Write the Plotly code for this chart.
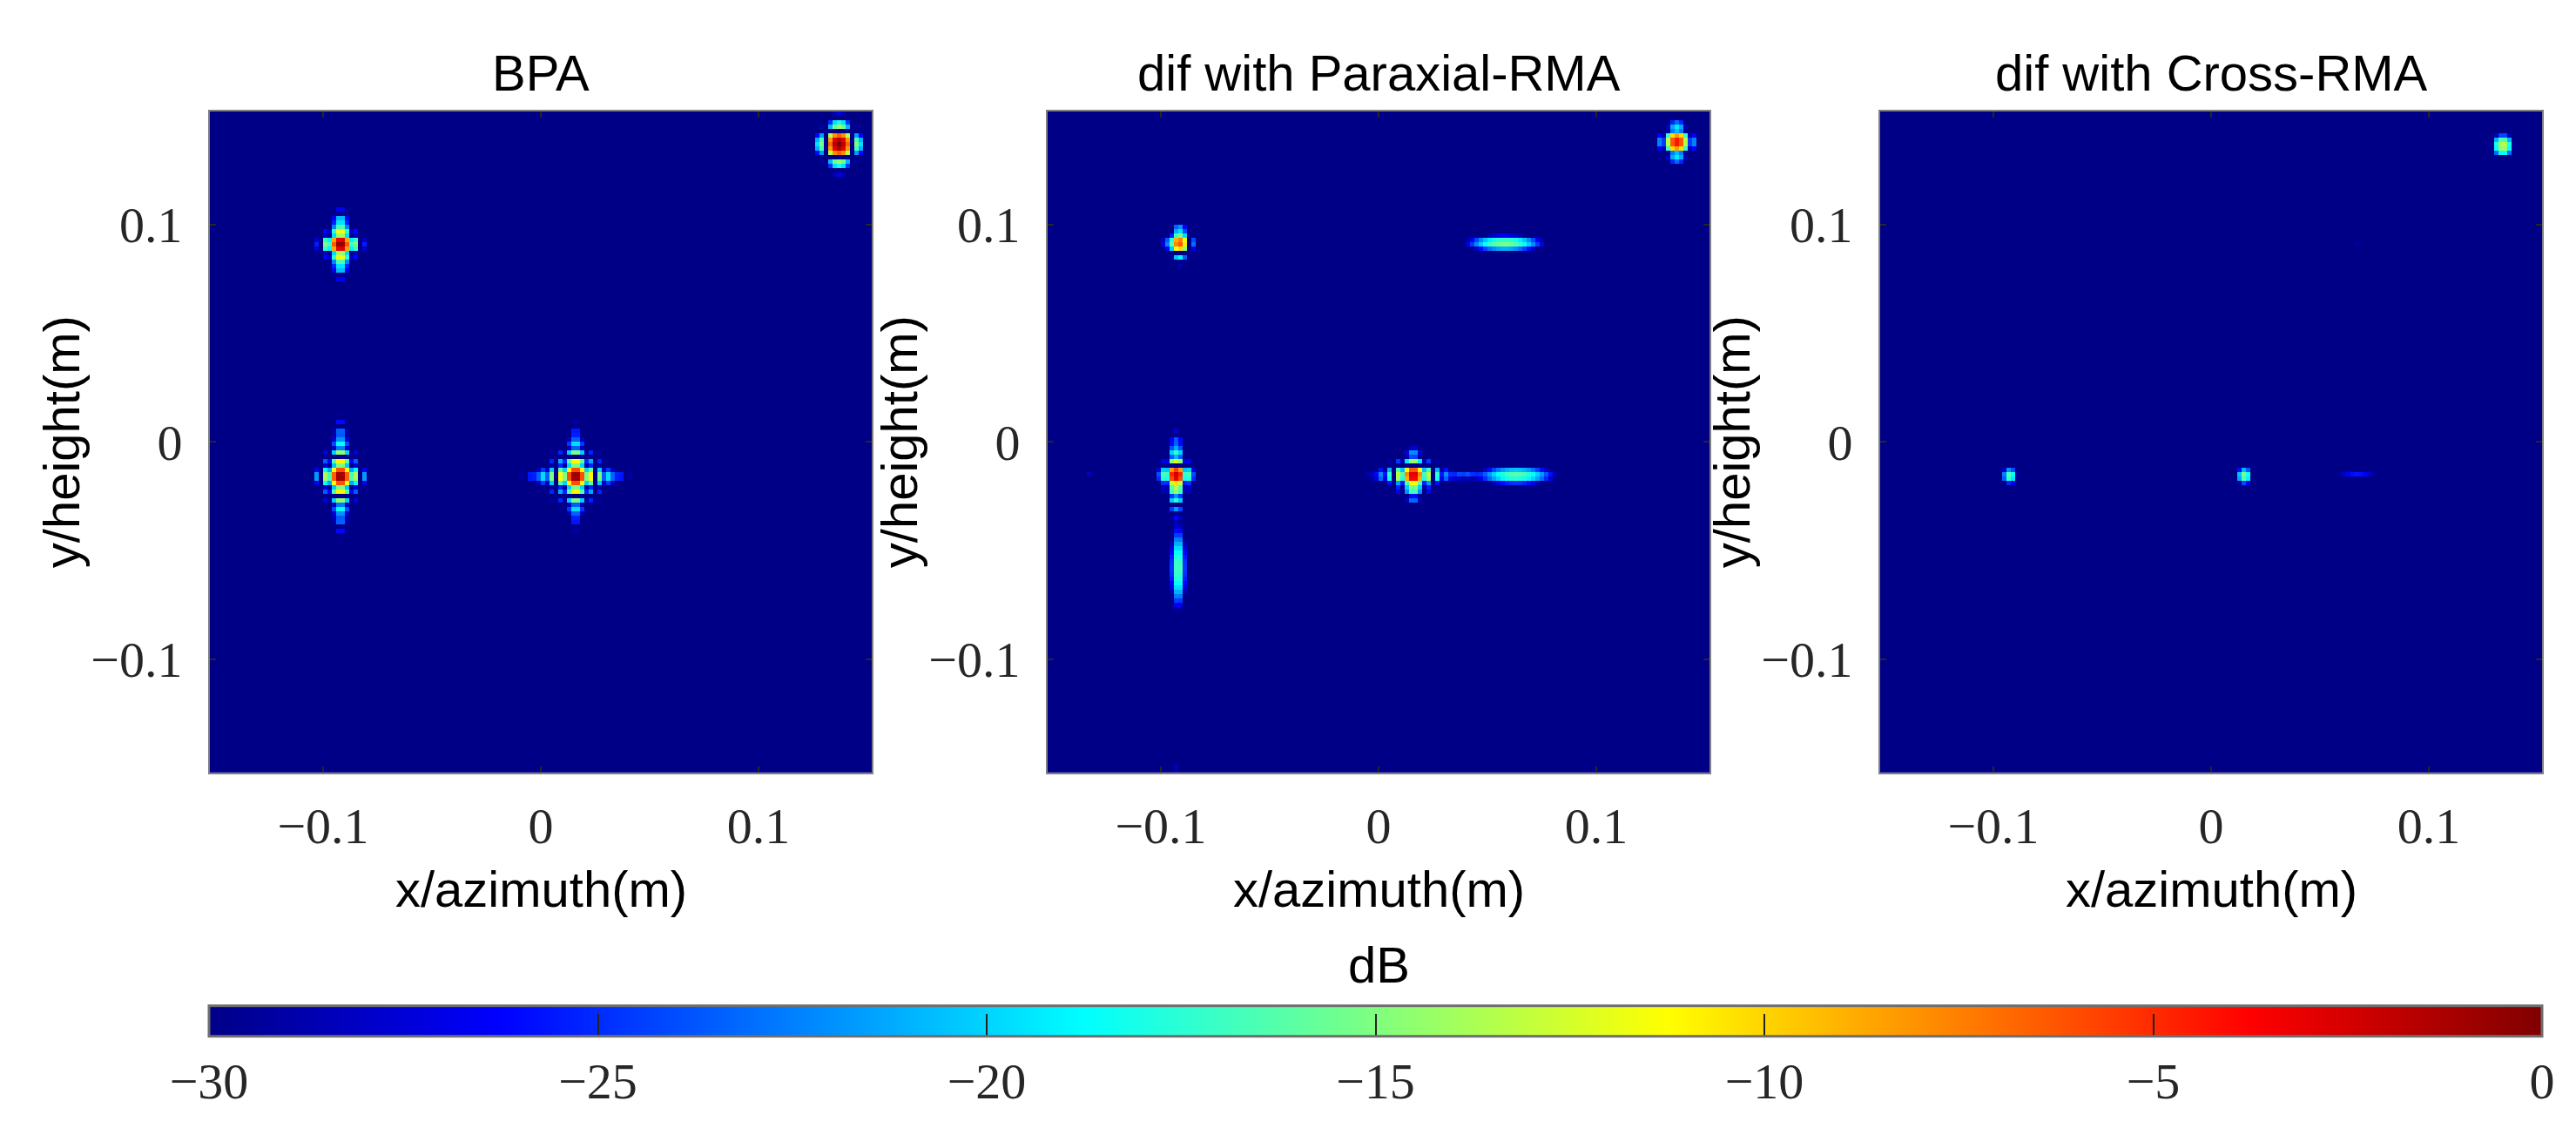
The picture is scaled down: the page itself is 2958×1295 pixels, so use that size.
import numpy as np
import plotly.graph_objects as go

# ==========================================
# Data
# ==========================================

# image grid (metres)
GRID_STEP = 0.002
GRID_MIN = -0.151
GRID_MAX = 0.151

# point targets, BPA image
BPA_X = [-0.092, 0.016, -0.092, 0.137]
BPA_Y = [-0.016, -0.016, 0.091, 0.137]
BPA_DB = [0.0, 0.0, 0.0, 0.0]
BPA_RES = [0.0045, 0.0045, 0.0045, 0.006]
BPA_REACH_X = [0.011, 0.022, 0.009, 0.010]
BPA_REACH_Y = [0.026, 0.022, 0.014, 0.011]

# point responses, difference with Paraxial-RMA
PAR_X = [-0.093, 0.016, -0.0915, 0.137, 0.016, -0.133, 0.108, 0.148, -0.093]
PAR_Y = [-0.0155, -0.0155, 0.0915, 0.138, 0.136, -0.0155, -0.0155, -0.0155, -0.150]
PAR_DB = [-2.0, -2.0, -6.0, -4.0, -26.0, -27.0, -27.0, -26.0, -25.0]
PAR_RES = [0.0045, 0.0045, 0.0045, 0.0055, 0.002, 0.002, 0.002, 0.002, 0.002]
PAR_REACH_X = [0.008, 0.02, 0.007, 0.008, 0.002, 0.004, 0.004, 0.006, 0.003]
PAR_REACH_Y = [0.02, 0.012, 0.01, 0.009, 0.006, 0.002, 0.002, 0.002, 0.003]

# defocused streaks, difference with Paraxial-RMA
PAR_STREAK_X = [0.058, 0.063, -0.092, 0.040]
PAR_STREAK_Y = [0.0915, -0.0155, -0.058, -0.0155]
PAR_STREAK_DB = [-15.0, -16.0, -16.0, -24.0]
PAR_STREAK_LEN_X = [0.0145, 0.015, 0.003, 0.008]
PAR_STREAK_LEN_Y = [0.003, 0.0035, 0.016, 0.0018]

# point responses, difference with Cross-RMA
CROSS_X = [0.134, -0.0925, 0.0153, -0.092, 0.067, -0.100]
CROSS_Y = [0.1364, -0.0157, -0.0157, 0.089, 0.0905, -0.0157]
CROSS_DB = [-13.0, -16.0, -15.0, -25.0, -28.0, -27.0]
CROSS_RES = [0.006, 0.005, 0.005, 0.002, 0.002, 0.002]
CROSS_REACH_X = [0.006, 0.004, 0.004, 0.0015, 0.002, 0.002]
CROSS_REACH_Y = [0.008, 0.005, 0.005, 0.006, 0.002, 0.002]

# faint streaks, difference with Cross-RMA
CROSS_STREAK_X = [0.067]
CROSS_STREAK_Y = [-0.0157]
CROSS_STREAK_DB = [-24.0]
CROSS_STREAK_LEN_X = [0.012]
CROSS_STREAK_LEN_Y = [0.0016]

TITLES = ["BPA", "dif with Paraxial-RMA", "dif with Cross-RMA"]
TICK_VALS = [-0.1, 0, 0.1]
TICK_TEXT = ["\u22120.1", "0", "0.1"]
CBAR_VALS = [-30, -25, -20, -15, -10, -5, 0]
CBAR_TEXT = ["\u221230", "\u221225", "\u221220", "\u221215", "\u221210", "\u22125", "0"]

# MATLAB jet
JET = [
    [0.0, "rgb(0,0,135)"],
    [0.125, "rgb(0,0,255)"],
    [0.375, "rgb(0,255,255)"],
    [0.625, "rgb(255,255,0)"],
    [0.875, "rgb(255,0,0)"],
    [1.0, "rgb(128,0,0)"],
]

# ==========================================
# Images
# ==========================================

axis = np.arange(GRID_MIN, GRID_MAX + GRID_STEP / 2, GRID_STEP)
XX, YY = np.meshgrid(axis, axis)

SIDELOBE_POW = 0.7


def point_power(xs, ys, dbs, res, reach_x, reach_y):
    power = np.zeros_like(XX)
    for x0, y0, db, r, lx, ly in zip(xs, ys, dbs, res, reach_x, reach_y):
        dx = XX - x0
        dy = YY - y0
        amp = np.abs(np.sinc(dx / r) * np.sinc(dy / r)) ** SIDELOBE_POW
        amp = 10 ** (db / 20) * amp * np.exp(-(dx / lx) ** 2 - (dy / ly) ** 2)
        power += amp ** 2
    return power


def streak_power(xs, ys, dbs, len_x, len_y):
    power = np.zeros_like(XX)
    for x0, y0, db, hx, hy in zip(xs, ys, dbs, len_x, len_y):
        dx = XX - x0
        dy = YY - y0
        amp = 10 ** (db / 20) * np.exp(-(dx / hx) ** 2 - (dy / hy) ** 2)
        power += amp ** 2
    return power


def to_db(power):
    return np.clip(10 * np.log10(power + 1e-12), -30, 0)


img_bpa = to_db(point_power(BPA_X, BPA_Y, BPA_DB, BPA_RES, BPA_REACH_X, BPA_REACH_Y))
img_par = to_db(
    point_power(PAR_X, PAR_Y, PAR_DB, PAR_RES, PAR_REACH_X, PAR_REACH_Y)
    + streak_power(PAR_STREAK_X, PAR_STREAK_Y, PAR_STREAK_DB, PAR_STREAK_LEN_X, PAR_STREAK_LEN_Y)
)
img_cross = to_db(
    point_power(CROSS_X, CROSS_Y, CROSS_DB, CROSS_RES, CROSS_REACH_X, CROSS_REACH_Y)
    + streak_power(CROSS_STREAK_X, CROSS_STREAK_Y, CROSS_STREAK_DB, CROSS_STREAK_LEN_X, CROSS_STREAK_LEN_Y)
)

# ==========================================
# Figure
# ==========================================

W, H = 2958, 1295
PANEL_LEFT = [233, 1195, 2151]
PANEL_SIZE = 760
PANEL_TOP = 120

TITLE_FONT = dict(family="Liberation Sans, Arial", size=58, color="black")
TICK_FONT = dict(family="Liberation Serif, Times New Roman", size=58, color="#262626")

fig = go.Figure()

for i, img in enumerate([img_bpa, img_par, img_cross]):
    fig.add_trace(go.Heatmap(
        x=axis, y=axis, z=img,
        zmin=-30, zmax=0,
        colorscale=JET,
        zsmooth=False,
        xaxis="x" if i == 0 else "x%d" % (i + 1),
        yaxis="y" if i == 0 else "y%d" % (i + 1),
        showscale=(i == 0),
        colorbar=dict(
            orientation="h",
            x=(232 + 2911) / 2 / W, xanchor="center",
            y=1 - 1222.5 / H, yanchor="middle",
            len=(2911 - 232) / W, lenmode="fraction",
            thickness=35, thicknessmode="pixels",
            outlinecolor="#6e6e6e", outlinewidth=3,
            tickmode="array", tickvals=CBAR_VALS, ticktext=CBAR_TEXT,
            ticks="inside", ticklen=27, tickcolor="#222", tickwidth=1.5,
            tickfont=TICK_FONT,
            xpad=0, ypad=0,
        ),
        hoverinfo="skip",
    ))

layout = dict(
    width=W, height=H,
    margin=dict(l=0, r=0, t=0, b=0),
    paper_bgcolor="white",
    plot_bgcolor="rgb(0,0,135)",
    showlegend=False,
)

annotations = []
for i in range(3):
    sx = "" if i == 0 else str(i + 1)
    x0 = PANEL_LEFT[i] / W
    x1 = (PANEL_LEFT[i] + PANEL_SIZE) / W
    y0 = 1 - (PANEL_TOP + PANEL_SIZE) / H
    y1 = 1 - PANEL_TOP / H
    common = dict(
        range=[-0.152, 0.152],
        tickmode="array", tickvals=TICK_VALS, ticktext=TICK_TEXT,
        ticks="inside", ticklen=7, tickwidth=1.5, tickcolor="#262626",
        showline=True, linecolor="#808080", linewidth=2, mirror="ticks",
        showgrid=False, zeroline=False,
        tickfont=TICK_FONT,
    )
    layout["xaxis" + sx] = dict(common, domain=[x0, x1], anchor="y" + sx, ticklabelstandoff=10)
    layout["yaxis" + sx] = dict(common, domain=[y0, y1], anchor="x" + sx, ticklabelstandoff=18)

    cx = (x0 + x1) / 2
    annotations.append(dict(
        text=TITLES[i], x=cx, y=1 - 76 / H, xref="paper", yref="paper",
        xanchor="center", yanchor="middle", showarrow=False, font=TITLE_FONT,
    ))
    annotations.append(dict(
        text="x/azimuth(m)", x=cx, y=1 - 1014 / H, xref="paper", yref="paper",
        xanchor="center", yanchor="middle", showarrow=False, font=TITLE_FONT,
    ))
    annotations.append(dict(
        text="y/height(m)", x=(PANEL_LEFT[i] - 171) / W, y=1 - 500 / H,
        xref="paper", yref="paper", textangle=-90,
        xanchor="center", yanchor="middle", showarrow=False, font=TITLE_FONT,
    ))

annotations.append(dict(
    text="dB", x=1575 / W, y=1 - 1101 / H, xref="paper", yref="paper",
    xanchor="center", yanchor="middle", showarrow=False, font=TITLE_FONT,
))

layout["annotations"] = annotations
fig.update_layout(**layout)

fig.write_html("out.html")
